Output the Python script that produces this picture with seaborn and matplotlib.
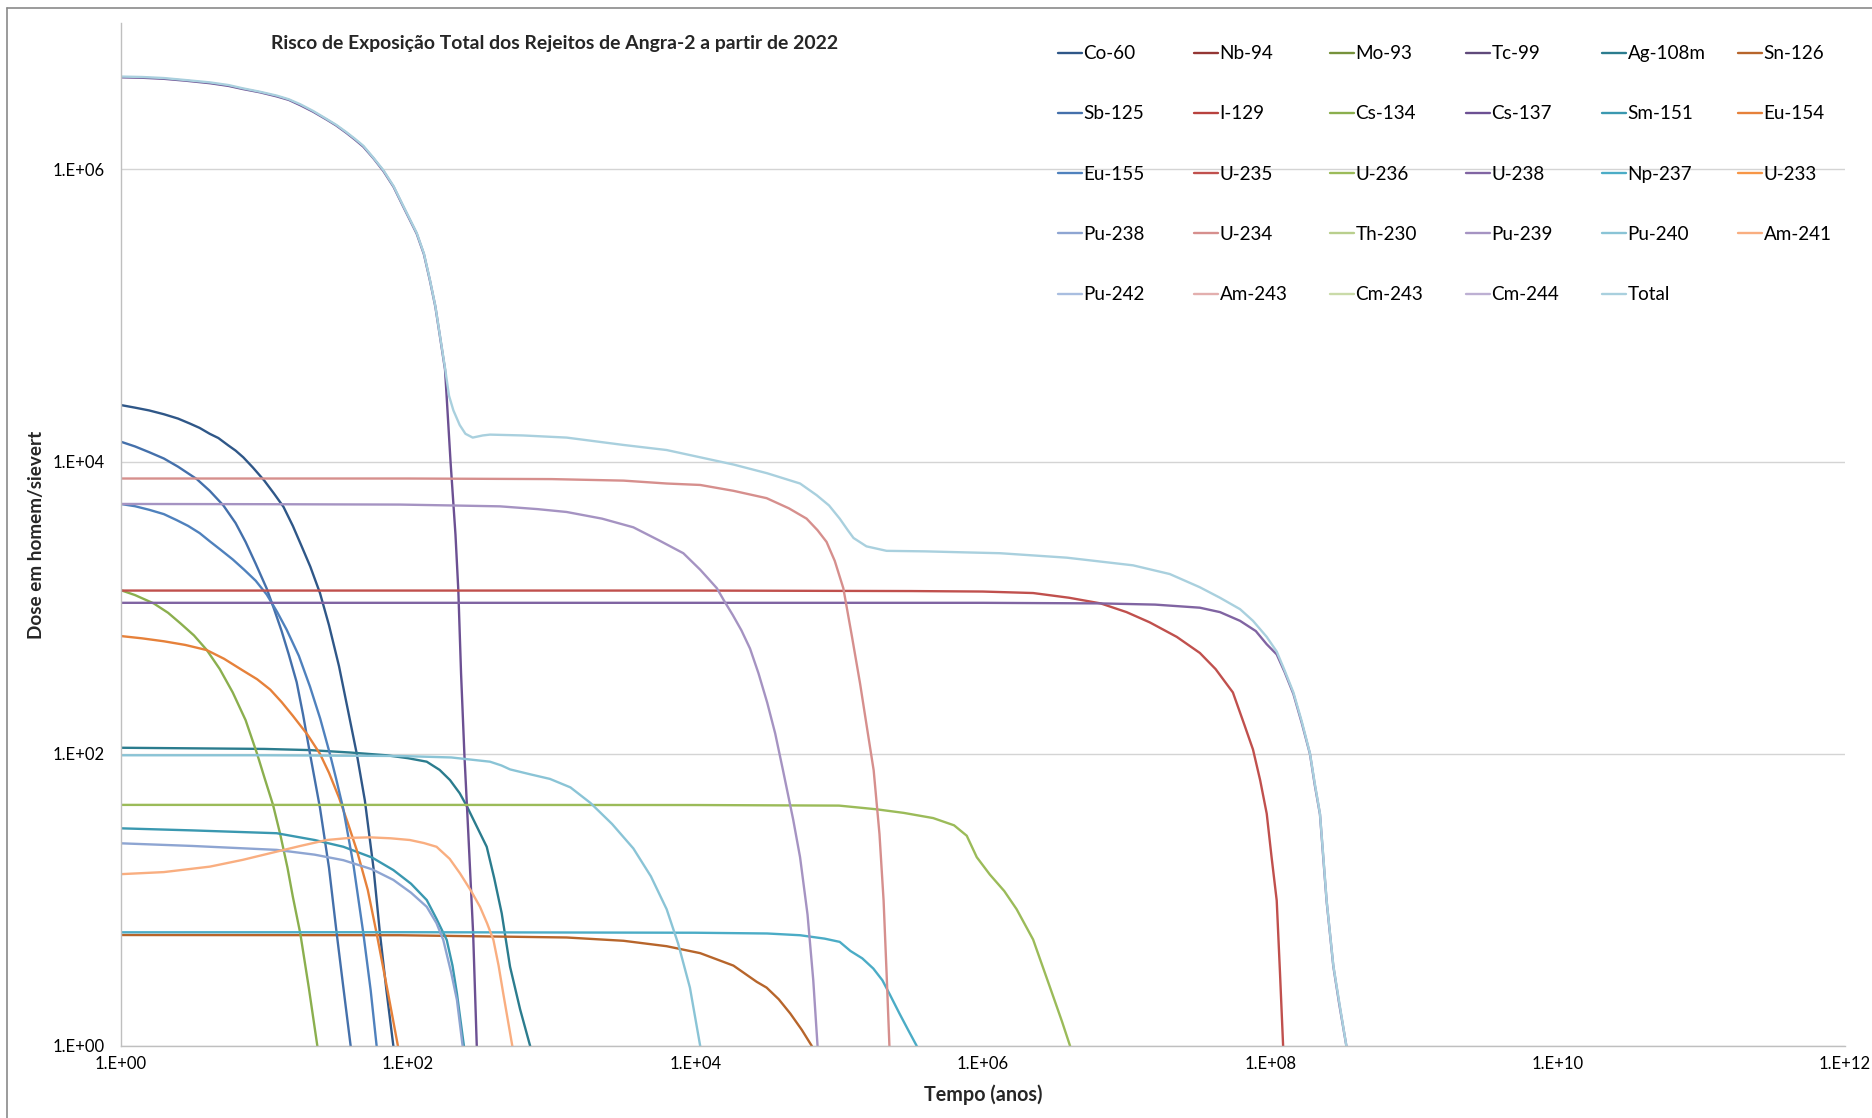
import numpy as np
import pandas as pd
import matplotlib
matplotlib.use("Agg")
import matplotlib.pyplot as plt
from matplotlib.lines import Line2D
from matplotlib.ticker import FixedLocator, FuncFormatter, NullLocator
import seaborn as sns

# ---------------------------------------------------------------- series
series_names = [
    "Co-60", "Nb-94", "Mo-93", "Tc-99", "Ag-108m", "Sn-126",
    "Sb-125", "I-129", "Cs-134", "Cs-137", "Sm-151", "Eu-154",
    "Eu-155", "U-235", "U-236", "U-238", "Np-237", "U-233",
    "Pu-238", "U-234", "Th-230", "Pu-239", "Pu-240", "Am-241",
    "Pu-242", "Am-243", "Cm-243", "Cm-244", "Total",
]

series_colors = [
    "#2F5788", "#943634", "#76923C", "#5F497A", "#2B7C8E", "#B7652B",
    "#4470AB", "#B8423E", "#8BAF4E", "#6C5093", "#3A98B0", "#E6813A",
    "#4F81BD", "#C0504D", "#9BBB59", "#8064A2", "#4BACC6", "#F79646",
    "#8EA5D2", "#D68F8D", "#B9CF8D", "#A593C2", "#8AC4D6", "#F9AE80",
    "#A9BEE0", "#E3AFAE", "#CADBA9", "#BDB0D3", "#A9D0DE",
]

# time (years) / dose (homem-sievert)
co60_t = [1, 1.26, 1.58, 2.0, 2.51, 3.04, 3.55, 4.17, 4.79, 5.62, 6.31, 7.14, 8.32, 10, 11.7,
          13.6, 15.8, 18.2, 20.9, 24.4, 28.2, 33.1, 38.0, 44.0, 50.1, 57.5, 63.8, 70.8, 79.1]
co60_d = [24400, 23400, 22400, 21100, 19700, 18200, 17000, 15500, 14500, 12900, 11900, 10700,
          9120, 7410, 6030, 4900, 3630, 2630, 1910, 1260, 759, 398, 204, 100, 47.9, 16.6,
          5.89, 2.40, 1]

ag108m_t = [1, 3.16, 10, 20.8, 39.8, 70.8, 100, 135, 166, 196, 229, 257, 302, 353, 398, 449, 513, 603, 708]
ag108m_d = [110, 109, 108, 106, 102, 97.7, 93.3, 88.3, 77.6, 66.1, 53.7, 43.7, 31.6, 23.1, 14.1, 8.09, 3.49, 1.78, 1]

sn126_t = [1, 88, 1270, 3160, 6310, 10800, 18400, 26700, 31300, 38000, 45700, 55000, 64600]
sn126_d = [5.75, 5.73, 5.53, 5.25, 4.82, 4.32, 3.55, 2.75, 2.51, 2.09, 1.67, 1.29, 1]

sb125_t = [1, 1.26, 1.58, 2.0, 2.51, 3.39, 4.17, 5.19, 6.31, 7.41, 8.71, 10.4, 11.7, 13.2,
           14.8, 16.8, 18.6, 20.8, 24.4, 28.2, 31.9, 35.5, 39.9]
sb125_d = [13700, 12700, 11600, 10500, 9230, 7590, 6310, 5010, 3800, 2820, 2000, 1350, 977,
           692, 479, 309, 186, 100, 42.7, 16.6, 5.89, 2.51, 1]

cs134_t = [1, 1.26, 1.70, 2.14, 2.63, 3.24, 3.98, 4.90, 6.03, 7.41, 8.91, 10, 11.5, 12.9,
           14.5, 15.8, 17.8, 20.4, 23.4]
cs134_d = [1320, 1220, 1070, 923, 776, 646, 513, 380, 263, 170, 100, 69.2, 44.7, 28.2,
           16.6, 10.5, 5.89, 2.51, 1]

cs137_t = [1, 1.41, 2.0, 2.82, 4.19, 5.62, 7.08, 9.33, 12.2, 14.8, 17.8, 21.9, 27.2, 31.6,
           37.2, 42.7, 48.9, 57.5, 67.3, 79.4, 92.7, 115, 129, 142, 155, 167, 181, 198,
           214, 224, 234, 247, 263, 284, 301]
cs137_d = [4.27e6, 4.24e6, 4.17e6, 4.05e6, 3.89e6, 3.73e6, 3.55e6, 3.37e6, 3.16e6, 2.99e6,
           2.75e6, 2.48e6, 2.19e6, 2.0e6, 1.78e6, 1.60e6, 1.43e6, 1.19e6, 9.77e5, 7.59e5,
           5.56e5, 3.63e5, 2.63e5, 1.74e5, 1.15e5, 7.16e4, 4.27e4, 9.77e3, 3.16e3, 1.31e3,
           355, 97.7, 28.2, 5.89, 1]

sm151_t = [1, 3.16, 12.2, 22.4, 35.5, 56.2, 79.1, 105, 135, 158, 186, 204, 219, 245]
sm151_d = [30.9, 29.9, 28.6, 25.7, 23.1, 19.5, 16.0, 12.9, 9.98, 7.41, 5.32, 3.55, 2.29, 1]

eu154_t = [1, 1.41, 2.0, 2.82, 3.97, 5.25, 7.08, 8.91, 11.0, 13.2, 15.8, 20.0, 24.4, 28.2,
           33.1, 38.0, 44.0, 52.5, 60.5, 72.4, 85.1]
eu154_d = [640, 617, 589, 556, 513, 447, 372, 324, 275, 226, 182, 135, 100, 74.1, 50.1,
           33.9, 21.9, 11.7, 5.89, 2.34, 1]

eu155_t = [1, 1.26, 1.58, 2.0, 2.45, 2.95, 3.55, 4.17, 4.92, 6.03, 7.24, 8.71, 10.4, 12.3,
           14.3, 17.4, 20.8, 24.5, 28.6, 31.6, 35.5, 41.7, 48.9, 55.0, 60.5]
eu155_d = [5130, 4950, 4680, 4370, 3980, 3630, 3240, 2850, 2510, 2140, 1820, 1530, 1230, 933,
           708, 468, 288, 174, 100, 67.6, 41.7, 17.4, 5.89, 2.40, 1]

u235_t = [1, 1e4, 3.16e5, 1e6, 2.24e6, 3.98e6, 6.61e6, 1e7, 1.45e7, 2.24e7, 3.24e7, 4.17e7,
          5.5e7, 6.61e7, 7.59e7, 8.51e7, 9.46e7, 1.02e8, 1.11e8, 1.17e8, 1.23e8]
u235_d = [1310, 1310, 1300, 1290, 1260, 1170, 1070, 933, 794, 631, 490, 380,
          263, 158, 107, 66.1, 38.9, 20.0, 9.91, 3.16, 1]

u236_t = [1, 100, 1e4, 1e5, 1.82e5, 2.82e5, 4.52e5, 6.31e5, 7.73e5, 9.08e5, 1.12e6, 1.41e6,
          1.72e6, 2.24e6, 2.94e6, 3.55e6, 4.05e6]
u236_d = [44.7, 44.7, 44.6, 44.2, 41.7, 39.4, 36.3, 32.4, 27.5, 19.6, 14.9, 11.5,
          8.63, 5.35, 2.51, 1.48, 1]

u238_t = [1, 100, 1e4, 1e6, 6.61e6, 1.58e7, 3.24e7, 4.47e7, 6.17e7, 7.94e7, 9.46e7, 1.11e8,
          1.26e8, 1.45e8, 1.66e8, 1.89e8, 2.04e8, 2.22e8, 2.34e8, 2.47e8, 2.75e8, 3.02e8, 3.39e8]
u238_d = [1080, 1080, 1080, 1080, 1070, 1050, 1000, 933, 813, 692, 562, 479,
          363, 257, 162, 100, 61.7, 38.5, 19.5, 9.77, 3.51, 1.95, 1]

np237_t = [1, 100, 1e4, 31600, 53500, 79400, 101000, 120000, 145000, 173000, 200000,
           226000, 263000, 302000, 347000]
np237_d = [6.0, 6.01, 5.96, 5.89, 5.73, 5.43, 5.16, 4.47, 3.98, 3.39, 2.82, 2.24, 1.67, 1.29, 1]

pu238_t = [1, 3.16, 12.2, 22.4, 35.5, 56.2, 79.1, 105, 135, 158, 176, 200, 219, 240]
pu238_d = [24.4, 23.4, 22.0, 20.4, 18.7, 16.2, 13.7, 11.2, 8.97, 6.92, 5.32, 3.16, 2.07, 1]

u234_t = [1, 100, 1000, 3160, 6310, 10800, 18400, 31300, 44700, 59400, 70800, 81800, 93300,
          107000, 123000, 140000, 158000, 174000, 191000, 204000, 214000, 224000]
u234_d = [7660, 7660, 7590, 7410, 7080, 6920, 6310, 5620, 4790, 4070, 3390, 2820, 2090,
          1360, 631, 302, 141, 77.1, 28.2, 9.89, 3.16, 1]

pu239_t = [1, 10, 88, 200, 437, 794, 1270, 2240, 3700, 5620, 8240, 10800, 12300, 14100,
           15800, 18200, 20900, 24000, 27500, 31600, 35900, 40700, 47900, 53500, 60300,
           66100, 70800]
pu239_d = [5130, 5110, 5080, 5010, 4940, 4730, 4520, 4070, 3550, 2880, 2360, 1820, 1580,
           1360, 1120, 891, 700, 525, 355, 224, 138, 77.1, 35.5, 19.6, 7.94, 2.82, 1]

pu240_t = [1, 10, 88, 200, 372, 447, 513, 708, 973, 1350, 1860, 2630, 3700, 4900, 6310,
           7590, 9160, 10800]
pu240_d = [97.7, 97.7, 96.6, 94.4, 88.3, 83.2, 78.2, 72.4, 67.3, 58.9, 46.1, 33.1, 22.5,
           14.5, 8.63, 5.01, 2.51, 1]

am241_t = [1, 2.0, 4.19, 7.08, 12.2, 17.8, 27.2, 39.8, 54.5, 75.9, 103, 129, 158, 195, 230,
           275, 317, 355, 393, 427, 460, 532]
am241_d = [15.0, 15.5, 16.9, 18.8, 21.4, 23.4, 25.7, 26.6, 26.8, 26.4, 25.7, 24.5, 23.1,
           19.1, 15.2, 11.5, 8.97, 6.92, 5.32, 3.55, 2.29, 1]

total_t = [1, 1.41, 2.0, 2.82, 4.19, 5.62, 7.08, 9.33, 12.2, 14.8, 17.8, 21.9, 27.2, 31.6,
           37.2, 42.7, 48.9, 57.5, 67.3, 79.4, 92.7, 115, 129, 142, 155, 167, 181, 193,
           207, 229, 251, 282, 331, 372, 631, 1270, 3160, 6310, 10800, 18400, 31600,
           53500, 69800, 85100, 101000, 115000, 126000, 155000, 214000, 398000, 773000,
           1.32e6, 3.84e6, 1.11e7, 2.0e7, 3.24e7, 4.47e7, 6.17e7, 7.59e7, 9.46e7, 1.11e8,
           1.26e8, 1.45e8, 1.66e8, 1.89e8, 2.04e8, 2.22e8, 2.34e8, 2.47e8, 2.75e8, 3.02e8,
           3.39e8]
total_d = [4.32e6, 4.29e6, 4.22e6, 4.09e6, 3.94e6, 3.78e6, 3.59e6, 3.40e6, 3.20e6, 3.02e6,
           2.79e6, 2.51e6, 2.21e6, 2.02e6, 1.80e6, 1.62e6, 1.45e6, 1.20e6, 9.89e5, 7.67e5,
           5.62e5, 3.67e5, 2.66e5, 1.76e5, 1.16e5, 7.24e4, 4.37e4, 2.82e4, 2.24e4, 1.78e4,
           1.55e4, 1.46e4, 1.51e4, 1.53e4, 1.51e4, 1.46e4, 1.30e4, 1.20e4, 1.07e4, 9550,
           8320, 7080, 5890, 5010, 4070, 3390, 3000, 2630, 2450, 2430, 2390, 2360, 2200,
           1950, 1700, 1380, 1170, 977, 813, 631, 501, 372, 263, 166, 101, 63.1, 38.9,
           20.0, 9.91, 3.55, 2.0, 1]

# nuclides whose dose stays below the plotted range
empty = ([], [])

series_data = {
    "Co-60": (co60_t, co60_d), "Nb-94": empty, "Mo-93": empty, "Tc-99": empty,
    "Ag-108m": (ag108m_t, ag108m_d), "Sn-126": (sn126_t, sn126_d),
    "Sb-125": (sb125_t, sb125_d), "I-129": empty, "Cs-134": (cs134_t, cs134_d),
    "Cs-137": (cs137_t, cs137_d), "Sm-151": (sm151_t, sm151_d),
    "Eu-154": (eu154_t, eu154_d), "Eu-155": (eu155_t, eu155_d),
    "U-235": (u235_t, u235_d), "U-236": (u236_t, u236_d), "U-238": (u238_t, u238_d),
    "Np-237": (np237_t, np237_d), "U-233": empty, "Pu-238": (pu238_t, pu238_d),
    "U-234": (u234_t, u234_d), "Th-230": empty, "Pu-239": (pu239_t, pu239_d),
    "Pu-240": (pu240_t, pu240_d), "Am-241": (am241_t, am241_d), "Pu-242": empty,
    "Am-243": empty, "Cm-243": empty, "Cm-244": empty, "Total": (total_t, total_d),
}

x_ticks = [1e0, 1e2, 1e4, 1e6, 1e8, 1e10, 1e12]
y_ticks = [1e0, 1e2, 1e4, 1e6]

title = "Risco de Exposição Total dos Rejeitos de Angra-2 a partir de 2022"
x_label = "Tempo (anos)"
y_label = "Dose em homem/sievert"

# ---------------------------------------------------------------- table
frames = []
for name in series_names:
    t, d = series_data[name]
    if len(t):
        frames.append(pd.DataFrame({"Tempo": t, "Dose": d, "Serie": name}))
df = pd.concat(frames, ignore_index=True)
palette = dict(zip(series_names, series_colors))
drawn = [n for n in series_names if len(series_data[n][0])]

# ---------------------------------------------------------------- figure
sns.set_style("white")
plt.rcParams["font.family"] = ["Lato", "DejaVu Sans"]

W, H = 1872, 1118
fig = plt.figure(figsize=(W / 100, H / 100), dpi=100)
fig.patch.set_facecolor("white")

left, right, top, bottom = 120.6, 1845.0, 23.3, 1046.0
ax = fig.add_axes([left / W, 1 - bottom / H, (right - left) / W, (bottom - top) / H])

sns.lineplot(data=df, x="Tempo", y="Dose", hue="Serie", hue_order=drawn,
             palette=palette, estimator=None, sort=False, linewidth=1.7,
             legend=False, ax=ax)
for line in ax.get_lines():
    line.set_solid_joinstyle("round")

ax.set_xscale("log")
ax.set_yscale("log")
ax.set_xlim(1, 1e12)
ax.set_ylim(1, 1e7)

fmt = FuncFormatter(lambda v, p: "1.E+%02d" % int(round(np.log10(v))))
ax.xaxis.set_major_locator(FixedLocator(x_ticks))
ax.yaxis.set_major_locator(FixedLocator(y_ticks))
ax.xaxis.set_minor_locator(NullLocator())
ax.yaxis.set_minor_locator(NullLocator())
ax.xaxis.set_major_formatter(fmt)
ax.yaxis.set_major_formatter(fmt)

ax.grid(False)
ax.yaxis.grid(True, color="#D4D4D4", linewidth=1.0)
ax.set_axisbelow(True)
for s in ("top", "right"):
    ax.spines[s].set_visible(False)
for s in ("left", "bottom"):
    ax.spines[s].set_color("#BFBFBF")
    ax.spines[s].set_linewidth(1.0)

ax.tick_params(axis="both", which="major", direction="out", length=3.6, width=1.0,
               color="#BFBFBF", labelcolor="black", labelsize=12)
ax.tick_params(axis="x", pad=3.5)
ax.tick_params(axis="y", pad=7.5)
ax.set_xlabel("")
ax.set_ylabel("")

renderer = fig.canvas.get_renderer()


def fit_width(txt, target_px, vertical=False):
    bb = txt.get_window_extent(renderer=renderer)
    size = bb.height if vertical else bb.width
    txt.set_fontsize(txt.get_fontsize() * target_px / size)


t_title = fig.text(555 / W, 1 - 43 / H, title, ha="center", va="center",
                   fontweight="bold", fontsize=13)
fit_width(t_title, 565)

t_x = fig.text(982.8 / W, 1 - 1095 / H, x_label, ha="center", va="center",
               fontweight="bold", fontsize=13)
fit_width(t_x, 118)

t_y = fig.text(37 / W, 1 - 534.7 / H, y_label, ha="center", va="center",
               rotation=90, fontweight="bold", fontsize=13)
fit_width(t_y, 208, vertical=True)

# ---------------------------------------------------------------- legend
for i, name in enumerate(series_names):
    row, col = divmod(i, 6)
    x0 = 1058 + 136 * col
    y0 = 52.7 + 60.2 * row
    fig.add_artist(Line2D([x0 / W, (x0 + 24) / W], [1 - y0 / H, 1 - y0 / H],
                          color=series_colors[i], linewidth=1.7))
    fig.text((x0 + 25.5) / W, 1 - (y0 + 6.5) / H, name, ha="left",
             va="baseline", fontsize=13.6, color="black")

# chart-area border
fig.add_artist(Line2D([7.5 / W, 7.5 / W], [0, 1 - 8 / H], color="#8A8A8A", linewidth=1.2))
fig.add_artist(Line2D([7.5 / W, 1], [1 - 8 / H, 1 - 8 / H], color="#8A8A8A", linewidth=1.2))

fig.savefig("out.png", dpi=100, facecolor="white")
